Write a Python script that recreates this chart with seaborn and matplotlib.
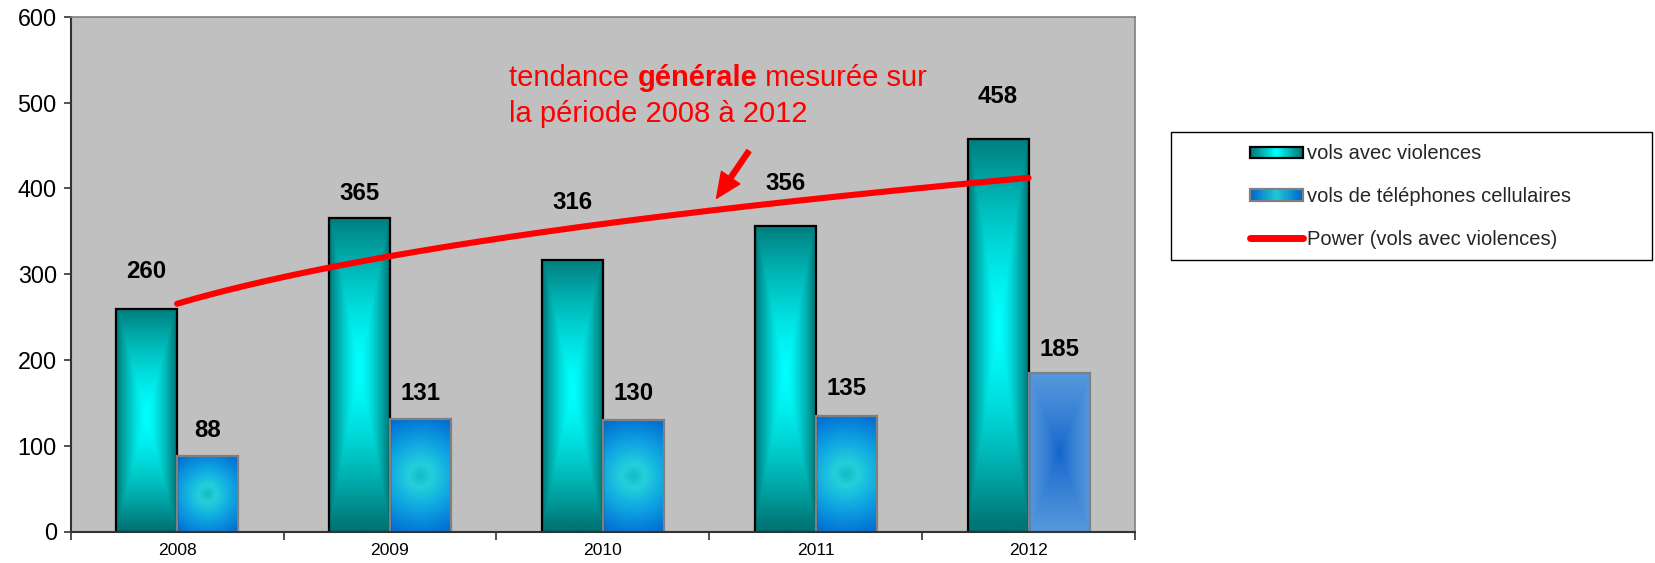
import numpy as np
import pandas as pd
import matplotlib
matplotlib.use("Agg")
import matplotlib.pyplot as plt
import seaborn as sns
from matplotlib.patches import Rectangle, Patch
from matplotlib.lines import Line2D
from matplotlib.legend_handler import HandlerBase

# ---------------- data ----------------
years = ["2008", "2009", "2010", "2011", "2012"]
violences = [260, 365, 316, 356, 458]
telephones = [88, 131, 130, 135, 185]
serie_v = "vols avec violences"
serie_t = "vols de téléphones cellulaires"
serie_trend = "Power (vols avec violences)"
note_line1 = ("tendance ", "générale", " mesurée sur")
note_line2 = "la période 2008 à 2012"

# ---------------- style / layout (not data) ----------------
label_off_v_px = [37, 25, 58, 43, 42]
label_off_t_px = [26, 26, 27, 27, 23]
phone_styles = ["radial", "radial", "radial", "radial", "light"]

sns.set_style("white")
plt.rcParams["font.family"] = ["Liberation Sans", "DejaVu Sans"]

W, H, DPI = 1655, 563, 100
fig = plt.figure(figsize=(W / DPI, H / DPI), dpi=DPI)
fig.patch.set_facecolor("white")
ax = fig.add_axes([70.7 / W, 1 - 531.5 / H, (1135 - 70.7) / W, (531.5 - 16.9) / H])

df = pd.DataFrame({
    "annee": years * 2,
    "valeur": violences + telephones,
    "serie": [serie_v] * len(years) + [serie_t] * len(years),
})
sns.barplot(data=df, x="annee", y="valeur", hue="serie", order=years,
            hue_order=[serie_v, serie_t], palette=["#008080", "#0070D0"],
            width=0.573, gap=0, dodge=True, saturation=1, errorbar=None,
            legend=False, ax=ax)

ax.set_xlim(-0.5, 4.5)
ax.set_ylim(0, 600)
ax.set_facecolor("#C0C0C0")
ax.set_xlabel("")
ax.set_ylabel("")


def lerp(c0, c1, t):
    c0 = np.array(c0)[None, None, :]
    c1 = np.array(c1)[None, None, :]
    return c0 * (1 - t[..., None]) + c1 * t[..., None]


def hex2rgb(h):
    h = h.lstrip("#")
    return [int(h[i:i + 2], 16) / 255 for i in (0, 2, 4)]


def bar_px(p):
    (x0, y0) = ax.transData.transform((p.get_x(), 0))
    (x1, y1) = ax.transData.transform((p.get_x() + p.get_width(), p.get_height()))
    return abs(x1 - x0), abs(y1 - y0)


def paint(p, img):
    x0 = p.get_x()
    ax.imshow(img, extent=(x0, x0 + p.get_width(), 0, p.get_height()),
              origin="upper", aspect="auto", interpolation="bilinear", zorder=1.5)


teal_edge = hex2rgb("#007676")
teal_mid = hex2rgb("#00FFFF")
for p in ax.containers[0]:
    wp, hp = bar_px(p)
    nw, nh = max(int(wp), 4), max(int(hp), 4)
    u = np.abs(np.linspace(-1, 1, nw))[None, :]
    v = np.abs(np.linspace(-1, 1, nh) + 0.04)[:, None]
    t = np.clip(np.maximum(u, v), 0, 1) ** 1.45
    paint(p, lerp(teal_mid, teal_edge, t))
    p.set_facecolor("none")
    p.set_edgecolor("black")
    p.set_linewidth(1.6)
    p.set_zorder(2)

for p, style in zip(ax.containers[1], phone_styles):
    wp, hp = bar_px(p)
    nw, nh = max(int(wp), 4), max(int(hp), 4)
    xs = np.linspace(-wp / 2, wp / 2, nw)[None, :]
    ys = np.linspace(-hp / 2, hp / 2, nh)[:, None]
    if style == "radial":
        R = np.hypot(wp / 2, hp / 2)
        d = np.clip(np.hypot(xs, ys) / R, 0, 1)
        c_core = hex2rgb("#16B8C8")
        c_ring = hex2rgb("#24D0DA")
        c_mid = hex2rgb("#10A8E2")
        c_edge = hex2rgb("#0068D2")
        img = np.where((d < 0.18)[..., None],
                       lerp(c_core, c_ring, d / 0.18),
                       np.where((d < 0.5)[..., None],
                                lerp(c_ring, c_mid, np.clip((d - 0.18) / 0.32, 0, 1)),
                                lerp(c_mid, c_edge, np.clip((d - 0.5) / 0.5, 0, 1))))
    else:
        t = np.maximum(np.abs(xs) / (wp / 2), np.abs(ys) / (hp / 2))
        t = np.clip(t, 0, 1) ** 0.8
        img = lerp(hex2rgb("#1264CC"), hex2rgb("#5698DC"), t)
    paint(p, img)
    p.set_facecolor("none")
    p.set_edgecolor("#808080")
    p.set_linewidth(1.6)
    p.set_zorder(2)

ax.set_xlim(-0.5, 4.5)
ax.set_ylim(0, 600)

# ---------------- power trend line ----------------
xn = np.arange(1, len(violences) + 1)
b, lna = np.polyfit(np.log(xn), np.log(violences), 1)
tt = np.linspace(1, len(violences), 200)
ax.plot(tt - 1, np.exp(lna) * tt ** b, color="#FF0000", lw=4.4,
        solid_capstyle="round", zorder=4)

# ---------------- data labels ----------------
for p, v, off in zip(ax.containers[0], violences, label_off_v_px):
    ax.annotate(str(v), (p.get_x() + p.get_width() / 2, v),
                xytext=(0, off * 72 / DPI), textcoords="offset points",
                ha="center", va="center", fontsize=17.3, fontweight="bold",
                color="black", zorder=6)
for p, v, off in zip(ax.containers[1], telephones, label_off_t_px):
    ax.annotate(str(v), (p.get_x() + p.get_width() / 2, v),
                xytext=(0, off * 72 / DPI), textcoords="offset points",
                ha="center", va="center", fontsize=17.3, fontweight="bold",
                color="black", zorder=6)

# ---------------- annotation text + arrow ----------------
t1 = ax.text(1.56, 519.4, note_line1[0], color="#FF0000", fontsize=21,
             ha="left", va="baseline", zorder=6)
t2 = ax.annotate(note_line1[1], xy=(1, 0), xycoords=t1, color="#FF0000",
                 fontsize=21, fontweight="bold", ha="left", va="bottom", zorder=6)
t3 = ax.annotate(note_line1[2], xy=(1, 0), xycoords=t2, color="#FF0000",
                 fontsize=21, ha="left", va="bottom", zorder=6)
ax.text(1.56, 477.8, note_line2, color="#FF0000", fontsize=21,
        ha="left", va="baseline", zorder=6)
ax.annotate("", xy=(2.534, 388.5), xytext=(2.686, 443.6),
            arrowprops=dict(arrowstyle="simple,head_length=0.9,head_width=0.8,tail_width=0.18",
                            color="#FF0000", mutation_scale=20, shrinkA=0, shrinkB=0),
            zorder=6)

# ---------------- axes styling ----------------
for s in ("left", "bottom"):
    ax.spines[s].set_color("#333333")
    ax.spines[s].set_linewidth(1.5)
for s in ("top", "right"):
    ax.spines[s].set_color("#808080")
    ax.spines[s].set_linewidth(1.2)
ax.set_yticks(range(0, 601, 100))
ax.tick_params(axis="y", which="major", left=True, length=5, width=1.2,
               color="#333333", direction="out", labelsize=16.8, pad=5,
               labelcolor="black")
ax.set_xticks(range(len(years)))
ax.set_xticklabels(years)
ax.set_xticks(np.arange(-0.5, len(years), 1), minor=True)
ax.tick_params(axis="x", which="major", length=0, labelsize=12.6, pad=8,
               labelcolor="black")
ax.tick_params(axis="x", which="minor", bottom=True, length=6, width=1.2,
               color="#333333", direction="out")


# ---------------- legend ----------------
class GradHandler(HandlerBase):
    def __init__(self, colors, edge, n=24):
        super().__init__()
        self.colors = colors
        self.edge = edge
        self.n = n

    def create_artists(self, legend, orig_handle, xdescent, ydescent,
                       width, height, fontsize, trans):
        arts = []
        for i in range(self.n):
            f = (i + 0.5) / self.n
            d = abs(f - 0.5) * 2
            c = np.array(self.colors[0]) * (1 - d) + np.array(self.colors[1]) * d
            arts.append(Rectangle((-xdescent + width * i / self.n, -ydescent),
                                  width / self.n + 0.3, height, facecolor=c,
                                  edgecolor="none", transform=trans))
        arts.append(Rectangle((-xdescent, -ydescent), width, height,
                              facecolor="none", edgecolor=self.edge, lw=1.6,
                              transform=trans))
        return arts


fig.add_artist(Rectangle((1171 / W, 1 - 260 / H), 481 / W, 128.5 / H,
                         transform=fig.transFigure, facecolor="white",
                         edgecolor="black", lw=1.0, zorder=1))
h1 = Patch(facecolor="#008080", edgecolor="black")
h2 = Patch(facecolor="#0070D0", edgecolor="#808080")
h3 = Line2D([], [], color="#FF0000", lw=5, solid_capstyle="round")
leg = fig.legend(handles=[h1, h2, h3], labels=[serie_v, serie_t, serie_trend],
                 loc="center left", bbox_to_anchor=(1250 / W, 1 - 196.5 / H),
                 bbox_transform=fig.transFigure, frameon=False, fontsize=14.5,
                 handlelength=2.63, handleheight=0.5, handletextpad=0.22,
                 labelspacing=1.17, borderpad=0, borderaxespad=0,
                 handler_map={h1: GradHandler((hex2rgb("#00FFFF"), hex2rgb("#007070")), "black"),
                              h2: GradHandler((hex2rgb("#22C8D6"), hex2rgb("#0062CA")), "#808080")})
leg.set_zorder(5)

fig.savefig("out.png", dpi=DPI, facecolor="white")
